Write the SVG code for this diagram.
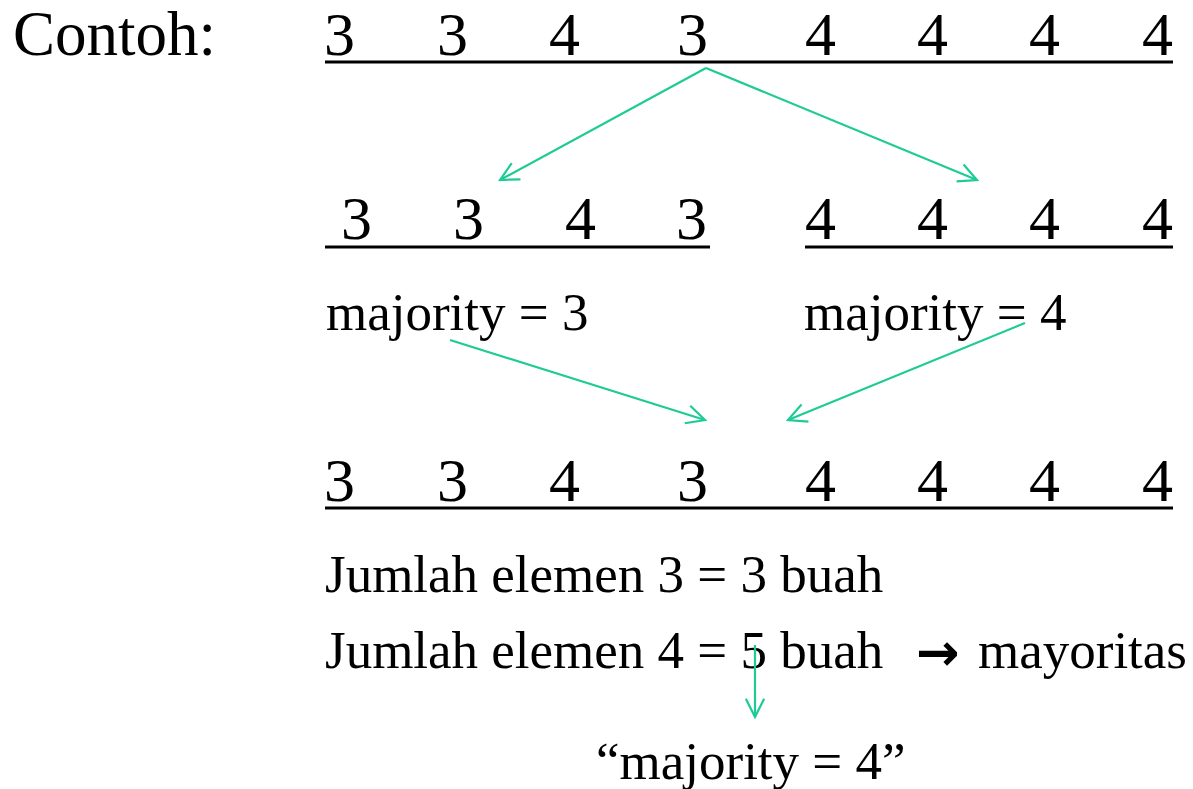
<svg xmlns="http://www.w3.org/2000/svg" width="1193" height="789" viewBox="0 0 1193 789">
<style>
.t{font-family:"Liberation Serif","Times New Roman",serif;fill:#000}
.big{font-size:62px}
.body{font-size:53px}
.ul{stroke:#000;stroke-width:3}
.c{stroke:#1ecb95;stroke-width:2.2;fill:none}
</style>
<defs>
<marker id="ah" viewBox="0 0 12 12" refX="11" refY="6" markerWidth="22" markerHeight="22" markerUnits="userSpaceOnUse" orient="auto">
<path d="M1,1 L11,6 L1,11" fill="none" stroke="#1ecb95" stroke-width="1.2"/>
</marker>
</defs>
<rect width="1193" height="789" fill="#fff"/>
<g id="label-contoh"><text class="t" style="font-size:63px" x="13" y="55">Contoh:</text></g>
<g id="row1">
<text class="t big" y="55"><tspan x="324">3</tspan><tspan x="437">3</tspan><tspan x="549">4</tspan><tspan x="677">3</tspan><tspan x="805">4</tspan><tspan x="917">4</tspan><tspan x="1029">4</tspan><tspan x="1142">4</tspan></text>
<line class="ul" x1="325" y1="62" x2="1173" y2="62"/>
</g>
<g id="row2-left">
<text class="t big" y="239"><tspan x="341">3</tspan><tspan x="453">3</tspan><tspan x="565">4</tspan><tspan x="676">3</tspan></text>
<line class="ul" x1="325" y1="247" x2="710" y2="247"/>
</g>
<g id="row2-right">
<text class="t big" y="239"><tspan x="805">4</tspan><tspan x="917">4</tspan><tspan x="1029">4</tspan><tspan x="1142">4</tspan></text>
<line class="ul" x1="805" y1="247" x2="1173" y2="247"/>
</g>
<g id="maj-left"><text class="t body" x="326" y="330">majority = 3</text></g>
<g id="maj-right"><text class="t body" x="804" y="330">majority = 4</text></g>
<g id="row3">
<text class="t big" y="501"><tspan x="324">3</tspan><tspan x="437">3</tspan><tspan x="549">4</tspan><tspan x="677">3</tspan><tspan x="805">4</tspan><tspan x="917">4</tspan><tspan x="1029">4</tspan><tspan x="1142">4</tspan></text>
<line class="ul" x1="325" y1="508" x2="1173" y2="508"/>
</g>
<g id="count3"><text class="t body" x="325" y="592">Jumlah elemen 3 = 3 buah</text></g>
<g id="count4"><text class="t body" x="325" y="668">Jumlah elemen 4 = 5 buah</text>
<text x="916" y="670" style="font-family:'DejaVu Sans',sans-serif;font-size:52px;font-weight:bold">→</text>
<text class="t body" x="978" y="668">mayoritas</text></g>
<g id="result"><text class="t body" x="596" y="779">“majority = 4”</text></g>
<g id="connectors">
<line class="c" x1="706" y1="68" x2="500" y2="180" marker-end="url(#ah)"/>
<line class="c" x1="706" y1="68" x2="977" y2="180" marker-end="url(#ah)"/>
<line class="c" x1="450" y1="340" x2="705" y2="420" marker-end="url(#ah)"/>
<line class="c" x1="1025" y1="323" x2="788" y2="420" marker-end="url(#ah)"/>
<line class="c" x1="755" y1="645" x2="755" y2="717" marker-end="url(#ah)"/>
</g>
</svg>
